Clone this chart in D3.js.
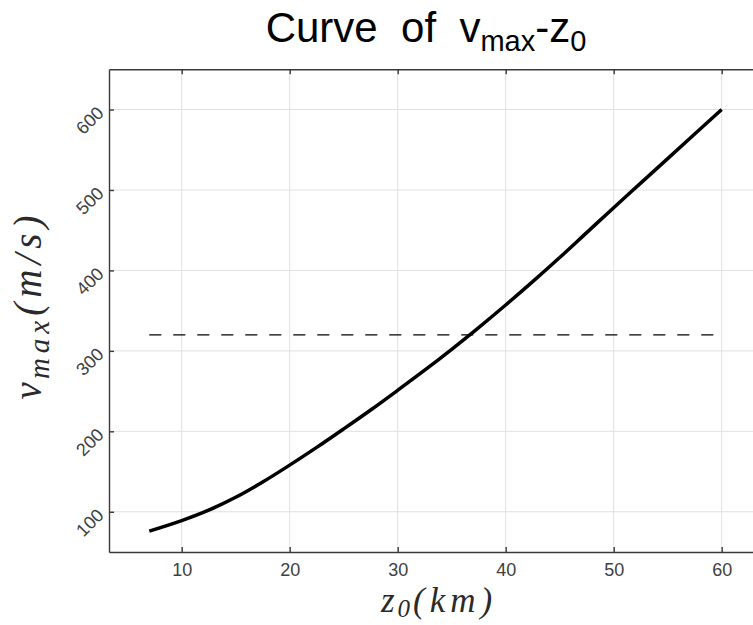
<!DOCTYPE html>
<html>
<head>
<meta charset="utf-8">
<script src="https://cdn.jsdelivr.net/npm/d3@7"></script>
<style>
  html, body { margin: 0; padding: 0; background: #fff; }
  svg { display: block; }
</style>
</head>
<body>
<svg id="chart" width="753" height="625"></svg>
<script>
// ---- data ----
const z0 = [7, 10, 12.5, 15, 17.5, 20, 22.5, 25, 27.5, 30, 32.5, 35, 37.5, 40, 42.5, 45, 47.5, 50, 52.5, 55, 57.5, 60];
const vmax = [76, 89, 102, 118, 137, 158, 180, 203, 226.5, 251, 276, 302, 329, 357, 386, 416, 447, 478, 508.5, 539, 569.5, 600];
const refLevel = 320;
const refRange = [7, 60];
const xTicks = [10, 20, 30, 40, 50, 60];
const yTicks = [100, 200, 300, 400, 500, 600];
const xDomain = [3.27, 64.9];
const yDomain = [50, 650];

(function () {
const svg = d3.select("#chart");
const pL = 109, pT = 69.3, pB = 552;
const pxPerUnit = 10.8;
const pR = pL + (xDomain[1] - xDomain[0]) * pxPerUnit;

const x = d3.scaleLinear().domain(xDomain).range([pL, pR]);
const y = d3.scaleLinear().domain(yDomain).range([pB, pT]);

const axisColor = "#3a3a3a";
const textColor = "#404040";

// grid
const grid = svg.append("g");
grid.selectAll("line.gx").data(xTicks).join("line").attr("class", "gx")
  .attr("x1", d => x(d)).attr("x2", d => x(d))
  .attr("y1", pT).attr("y2", pB)
  .attr("stroke", "#e0e0e0").attr("stroke-width", 1);
grid.selectAll("line.gy").data(yTicks).join("line").attr("class", "gy")
  .attr("y1", d => y(d)).attr("y2", d => y(d))
  .attr("x1", pL).attr("x2", pR)
  .attr("stroke", "#e0e0e0").attr("stroke-width", 1);

// dashed reference line
svg.append("line")
  .attr("x1", x(refRange[0])).attr("x2", x(refRange[1]))
  .attr("y1", y(refLevel)).attr("y2", y(refLevel))
  .attr("stroke", "#000").attr("stroke-width", 1.2)
  .attr("stroke-dasharray", "12,12");

// curve
const line = d3.line().x((d, i) => x(z0[i])).y(d => y(d)).curve(d3.curveMonotoneX);
svg.append("path")
  .attr("d", line(vmax))
  .attr("fill", "none").attr("stroke", "#000").attr("stroke-width", 3.5)
  .attr("stroke-linecap", "butt");

// axes
const xAxis = d3.axisBottom(x).tickValues(xTicks).tickSizeInner(-5).tickSizeOuter(0).tickPadding(24).tickFormat(d3.format("d"));
const gx = svg.append("g").attr("transform", `translate(0,${pB})`).call(xAxis);
gx.select(".domain").attr("stroke", axisColor).attr("stroke-width", 1.4);
gx.selectAll(".tick line").attr("stroke", axisColor).attr("stroke-width", 1.4);
gx.selectAll(".tick text").attr("fill", textColor)
  .style("font-family", "Liberation Sans, Arial, sans-serif").style("font-size", "18px")
  .attr("dy", "0");

const xTop = d3.axisTop(x).tickValues(xTicks).tickSizeInner(-5).tickSizeOuter(0).tickFormat("");
const gxt = svg.append("g").attr("transform", `translate(0,${pT})`).call(xTop);
gxt.select(".domain").attr("stroke", axisColor).attr("stroke-width", 1.4);
gxt.selectAll(".tick line").attr("stroke", axisColor).attr("stroke-width", 1.4);

const yAxis = d3.axisLeft(y).tickValues(yTicks).tickSizeInner(-5).tickSizeOuter(0).tickFormat("");
const gy = svg.append("g").attr("transform", `translate(${pL},0)`).call(yAxis);
gy.select(".domain").attr("stroke", axisColor).attr("stroke-width", 1.4);
gy.selectAll(".tick line").attr("stroke", axisColor).attr("stroke-width", 1.4);

// rotated y tick labels
svg.append("g").selectAll("text").data(yTicks).join("text")
  .attr("transform", d => `translate(90,${y(d) + 11}) rotate(-45)`)
  .attr("text-anchor", "middle").attr("dominant-baseline", "central")
  .attr("fill", textColor)
  .style("font-family", "Liberation Sans, Arial, sans-serif").style("font-size", "18px")
  .text(d => d);

// title
const title = svg.append("text")
  .attr("x", 426).attr("y", 42)
  .attr("text-anchor", "middle")
  .attr("fill", "#000")
  .style("font-family", "Liberation Sans, Arial, sans-serif").style("font-size", "42px")
  .style("white-space", "pre");
title.append("tspan").text("Curve  of  v");
title.append("tspan").attr("dy", 9).style("font-size", "29px").text("max");
title.append("tspan").attr("dy", -9).text("-z");
title.append("tspan").attr("dy", 9).style("font-size", "29px").text("0");

// x label
const xl = svg.append("text")
  .attr("x", 439).attr("y", 612)
  .attr("text-anchor", "middle").attr("fill", "#2a2a2a")
  .style("font-family", "Liberation Serif, DejaVu Serif, serif").style("font-style", "italic").style("font-size", "35px");
xl.append("tspan").style("letter-spacing", "3px").text("z");
xl.append("tspan").attr("dy", 5).style("font-size", "25px").style("letter-spacing", "3px").text("0");
xl.append("tspan").attr("dy", -5).style("letter-spacing", "5px").text("(km)");

// y label
const yl = svg.append("text")
  .attr("transform", "translate(41,305) rotate(-90)")
  .attr("text-anchor", "middle").attr("fill", "#2a2a2a")
  .style("font-family", "Liberation Serif, DejaVu Serif, serif").style("font-style", "italic").style("font-size", "39px");
yl.append("tspan").style("letter-spacing", "3px").text("v");
yl.append("tspan").attr("dy", 8).style("font-size", "29px").style("letter-spacing", "5px").text("max");
yl.append("tspan").attr("dy", -8).style("letter-spacing", "5px").text("(m/s)");
})();
</script>
</body>
</html>
